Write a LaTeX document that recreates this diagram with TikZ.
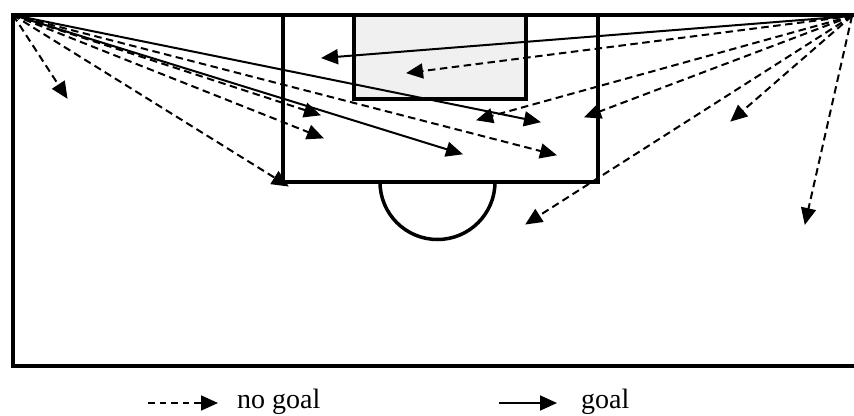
\documentclass[tikz,border=0pt]{standalone}
\usepackage{fontspec}
\setmainfont{Liberation Serif}
\usetikzlibrary{arrows.meta}
\begin{document}
\begin{tikzpicture}[x=1pt,y=-1pt,
  field/.style={line width=4pt,line cap=rect},
  shot/.style={line width=2pt,-{Triangle[length=17pt,width=15pt]},shorten >=-1pt},
  miss/.style={shot,dash pattern=on 7.5pt off 4.5pt},
  hit/.style={shot},
  lbl/.style={anchor=base west,inner sep=0pt,font=\fontsize{28}{30}\selectfont}]
\useasboundingbox (0,0) rectangle (854,415);
% corners
\coordinate (L) at (13,15);
\coordinate (R) at (852,16);
% field
\draw[field] (856,15) -- (13,15) -- (13,366) -- (856,366);
\draw[field,fill=black!6] (354,15) rectangle (526,99);
\draw[field] (283,15) -- (283,182) -- (598,182) -- (598,15);
\draw[line width=3.5pt] (380,182) arc[start angle=180,end angle=0,radius=57.5];
% targets from left corner
\coordinate (a) at (67,98);
\coordinate (b) at (288,186);
\coordinate (c) at (320,115);
\coordinate (d) at (323,138);
\coordinate (e) at (462,154);
\coordinate (f) at (556,155);
\coordinate (g) at (540,122);
\draw[miss] (L) -- (a);
\draw[miss] (L) -- (b);
\draw[miss] (L) -- (c);
\draw[miss] (L) -- (d);
\draw[hit] (L) -- (e);
\draw[miss] (L) -- (f);
\draw[hit] (L) -- (g);
% targets from right corner
\coordinate (h) at (322,58);
\coordinate (i) at (407,73);
\coordinate (j) at (477,120);
\coordinate (k) at (585,117);
\coordinate (l) at (731,121);
\coordinate (m) at (526,224);
\coordinate (n) at (805,224);
\draw[hit] (R) -- (h);
\draw[miss] (R) -- (i);
\draw[miss] (R) -- (j);
\draw[miss] (R) -- (k);
\draw[miss] (R) -- (l);
\draw[miss] (R) -- (m);
\draw[miss] (R) -- (n);
% legend
\coordinate (ms) at (148,403);
\coordinate (me) at (217,403);
\coordinate (hs) at (499,403);
\coordinate (he) at (556,403);
\draw[miss,line width=1.8pt,dash pattern=on 6.5pt off 5pt] (ms) -- (me);
\draw[hit,line width=1.8pt] (hs) -- (he);
\node[lbl] (nogoal) at (237,408) {no goal};
\node[lbl] (goal) at (581,408) {goal};
\end{tikzpicture}
\end{document}
